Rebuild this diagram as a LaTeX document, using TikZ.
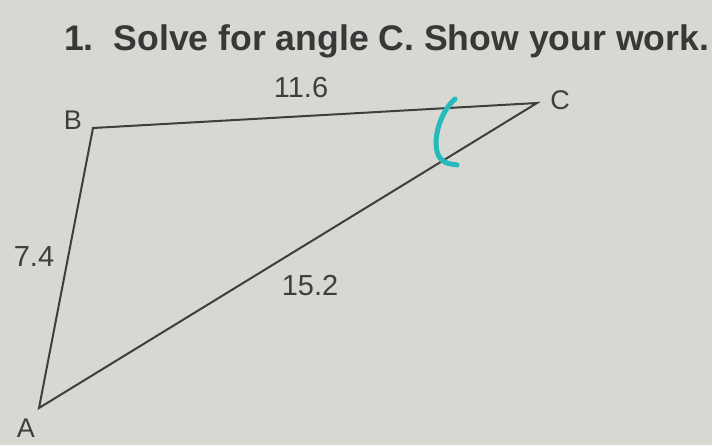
\documentclass[tikz,border=0pt]{standalone}
\usepackage{fontspec}
\setmainfont{Liberation Sans}
\definecolor{paper}{RGB}{216,216,210}
\definecolor{ink}{RGB}{62,62,62}
\definecolor{tealmark}{RGB}{38,186,190}

\begin{document}
\begin{tikzpicture}[x=1pt,y=-1pt,
   side/.style={draw=ink,line width=2pt,line join=miter},
   corner label/.style={text=ink,inner sep=0pt,font=\fontsize{27}{27}\selectfont},
   length label/.style={text=ink,inner sep=0pt,font=\fontsize{29}{29}\selectfont}]
\fill[paper] (0,0) rectangle (712,445);
\useasboundingbox (0,0) rectangle (712,445);
\node[text=ink!90!black,anchor=base west,inner sep=0pt,font=\fontsize{35.6}{35.6}\selectfont\bfseries]
   (title) at (64,50) {1.\ \ Solve for angle C. Show your work.};
\coordinate (A) at (39,408);
\coordinate (B) at (93,128);
\coordinate (C) at (537,103);
\draw[side] (A) -- (B) -- (C) -- cycle;
\node[corner label] (labA) at (26,428) {A};
\node[corner label] (labB) at (73,120) {B};
\node[corner label] (labC) at (560,100) {C};
\node[length label] (ab) at (34,257) {7.4};
\node[length label] (bc) at (301,88) {11.6};
\node[length label] (ac) at (310,286) {15.2};
% angle mark at C
\draw[tealmark,line width=5pt,line cap=round]
   (455,99) .. controls (438,114) and (431,146) .. (440,158)
   .. controls (445,163) .. (457,165);
\end{tikzpicture}
\end{document}
